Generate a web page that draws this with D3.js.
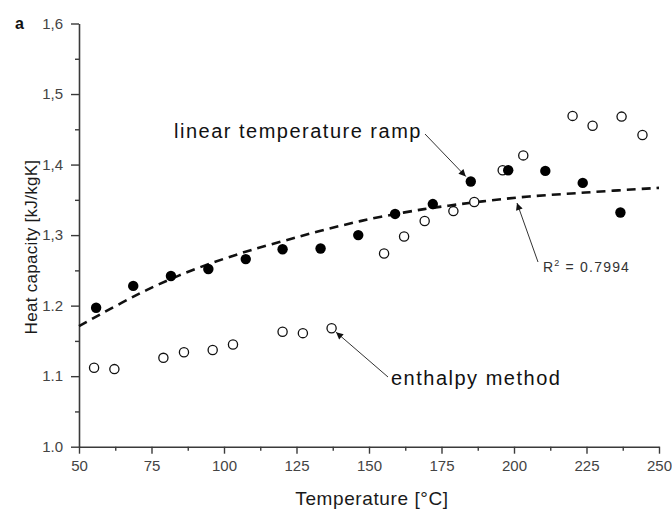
<!DOCTYPE html>
<html>
<head>
<meta charset="utf-8">
<script src="https://cdn.jsdelivr.net/npm/d3@7"></script>
<style>
  html, body { margin: 0; padding: 0; background: #fff; }
  svg { display: block; font-family: Arial, "Liberation Sans", sans-serif; }
</style>
</head>
<body>
<svg id="chart" width="672" height="512"></svg>
<script>
// ---- data ----
const rampT = [55.9, 68.7, 81.7, 94.6, 107.5, 120.2, 133.3, 146.3, 159.0, 172.0, 185.1, 198.0, 210.8, 223.7, 236.7];
const rampCp = [1.197, 1.228, 1.242, 1.252, 1.266, 1.280, 1.281, 1.300, 1.330, 1.344, 1.376, 1.392, 1.391, 1.374, 1.332];

const enthT = [55.2, 62.2, 79.1, 86.2, 96.1, 103.1, 120.2, 127.2, 137.1, 155.2, 162.1, 169.2, 179.1, 186.3, 196.1, 203.2, 220.2, 227.1, 237.1, 244.3];
const enthCp = [1.112, 1.110, 1.126, 1.134, 1.137, 1.145, 1.163, 1.161, 1.168, 1.274, 1.298, 1.320, 1.334, 1.347, 1.392, 1.413, 1.469, 1.455, 1.468, 1.442];

const fitT = [50, 65, 77, 91, 104, 111, 119, 126, 133, 140, 147, 154, 162, 169, 176, 191, 205, 220, 234, 250];
const fitCp = [1.171, 1.205, 1.230, 1.254, 1.272, 1.281, 1.290, 1.298, 1.306, 1.313, 1.320, 1.326, 1.332, 1.337, 1.341, 1.349, 1.355, 1.359, 1.363, 1.367];

const xTicks = [50, 75, 100, 125, 150, 175, 200, 225, 250];
const xTickLabels = ["50", "75", "100", "125", "150", "175", "200", "225", "250"];
const yTicks = [1.0, 1.1, 1.2, 1.3, 1.4, 1.5, 1.6];
const yTickLabels = ["1.0", "1.1", "1.2", "1,3", "1,4", "1,5", "1,6"];

const xTitle = "Temperature [°C]";
const yTitle = "Heat capacity [kJ/kgK]";
const panelLabel = "a";
const rampLabel = "linear temperature ramp";
const enthLabel = "enthalpy method";
const r2Value = "0.7994";

// ---- layout ----
const svg = d3.select("#chart");
const x = d3.scaleLinear().domain([50, 250]).range([79, 659]);
const y = d3.scaleLinear().domain([1.0, 1.6]).range([446.7, 23.5]);
const axisColor = "#3a3a3a";
const labelColor = "#444";

// minor ticks
const xMinor = d3.range(62.5, 250, 25);
const yMinor = d3.range(1.05, 1.6, 0.1);

const gx = svg.append("g").attr("transform", `translate(0,${y(1.0)})`);
gx.call(d3.axisBottom(x).tickValues(xTicks).tickSize(7).tickSizeOuter(0)
  .tickFormat((d, i) => xTickLabels[i]).tickPadding(7));
gx.append("g").call(d3.axisBottom(x).tickValues(xMinor).tickSize(4).tickFormat(""))
  .select(".domain").remove();

const gy = svg.append("g").attr("transform", `translate(${x(50)},0)`);
gy.call(d3.axisLeft(y).tickValues(yTicks).tickSize(8).tickSizeOuter(0)
  .tickFormat((d, i) => yTickLabels[i]).tickPadding(8));
gy.append("g").call(d3.axisLeft(y).tickValues(yMinor).tickSize(4).tickFormat(""))
  .select(".domain").remove();

svg.selectAll(".domain").attr("stroke", axisColor).attr("stroke-width", 1.6);
svg.selectAll(".tick line").attr("stroke", axisColor).attr("stroke-width", 1.4);
svg.selectAll(".tick text").attr("fill", labelColor)
  .style("font-size", "15px").style("font-family", "Arial, 'Liberation Sans', sans-serif");

// axis titles
svg.append("text").attr("x", 372).attr("y", 505).attr("text-anchor", "middle")
  .style("font-size", "19px").style("letter-spacing", "0.6px").attr("fill", "#1a1a1a").text(xTitle);
svg.append("text").attr("transform", "translate(37,247) rotate(-90)").attr("text-anchor", "middle")
  .style("font-size", "17px").style("letter-spacing", "0.3px").attr("fill", "#1a1a1a").text(yTitle);
svg.append("text").attr("x", 15).attr("y", 29).style("font-size", "16px").style("font-weight", "bold")
  .attr("fill", "#111").text(panelLabel);

// fit curve
const line = d3.line().x((d, i) => x(fitT[i])).y((d, i) => y(fitCp[i])).curve(d3.curveBasis);
svg.append("path").datum(fitT).attr("d", line).attr("fill", "none")
  .attr("stroke", "#111").attr("stroke-width", 2.6).attr("stroke-dasharray", "9,6");

// markers
svg.append("g").selectAll("circle").data(enthT).join("circle")
  .attr("cx", (d) => x(d)).attr("cy", (d, i) => y(enthCp[i])).attr("r", 4.6)
  .attr("fill", "#fff").attr("stroke", "#111").attr("stroke-width", 1.3);
svg.append("g").selectAll("circle").data(rampT).join("circle")
  .attr("cx", (d) => x(d)).attr("cy", (d, i) => y(rampCp[i])).attr("r", 5.2)
  .attr("fill", "#000");

// arrows
const defs = svg.append("defs");
defs.append("marker").attr("id", "ah").attr("viewBox", "0 0 10 10").attr("refX", 10).attr("refY", 5)
  .attr("markerWidth", 10).attr("markerHeight", 7).attr("markerUnits", "userSpaceOnUse")
  .attr("orient", "auto").append("path").attr("d", "M0,0 L10,5 L0,10 Z").attr("fill", "#111");

function arrow(x1, y1, x2, y2) {
  svg.append("line").attr("x1", x1).attr("y1", y1).attr("x2", x2).attr("y2", y2)
    .attr("stroke", "#333").attr("stroke-width", 1).attr("marker-end", "url(#ah)");
}
// arrow to ramp point (185.1)
arrow(425, 134, x(rampT[10]) - 5, y(rampCp[10]) - 5);
// R2 arrow to curve
arrow(538, 262, 517, 203);
// enthalpy arrow
arrow(388, 377, x(enthT[8]) + 4.5, y(enthCp[8]) + 4);

// annotation labels
svg.append("text").attr("x", 174).attr("y", 138).style("font-size", "20px").style("letter-spacing", "1.5px")
  .attr("fill", "#111").text(rampLabel);
svg.append("text").attr("x", 391).attr("y", 385).style("font-size", "20px").style("letter-spacing", "1.5px")
  .attr("fill", "#111").text(enthLabel);
const r2 = svg.append("text").attr("x", 543).attr("y", 272).style("font-size", "14px")
  .style("letter-spacing", "1.2px").attr("fill", "#333");
r2.append("tspan").text("R");
r2.append("tspan").attr("dy", -6).style("font-size", "9px").text("2");
r2.append("tspan").attr("dy", 6).text(" = " + r2Value);
</script>
</body>
</html>
